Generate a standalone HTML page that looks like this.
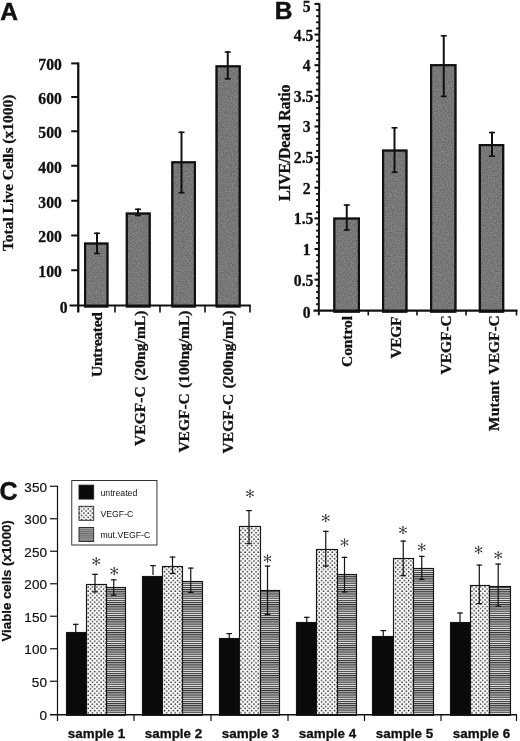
<!DOCTYPE html>
<html><head><meta charset="utf-8"><title>Figure</title>
<style>html,body{margin:0;padding:0;background:#fff}svg{display:block;opacity:0.999;will-change:transform}text{font-kerning:normal}</style>
</head><body>
<svg width="520" height="741" viewBox="0 0 520 741">
<defs>
<filter id="noise" x="0" y="0" width="100%" height="100%" color-interpolation-filters="sRGB">
<feTurbulence type="fractalNoise" baseFrequency="0.8" numOctaves="2" seed="7" result="n"/>
<feColorMatrix in="n" type="matrix" values="0.9 0 0 0 0.02  0.9 0 0 0 0.02  0.9 0 0 0 0.02  0 0 0 0 1" result="m"/>
<feComposite in="m" in2="SourceGraphic" operator="in"/>
</filter>
<pattern id="dots" width="4.36" height="4.34" patternUnits="userSpaceOnUse">
<rect width="4.4" height="4.4" fill="#fbfbfb"/>
<circle cx="1" cy="1" r="0.74" fill="#111"/>
<circle cx="3.18" cy="3.17" r="0.74" fill="#111"/>
</pattern>
<pattern id="stripes" width="4" height="2.15" patternUnits="userSpaceOnUse">
<rect width="4" height="2.2" fill="#e2e2e2"/>
<rect y="0" width="4" height="1.15" fill="#343434"/>
</pattern>
<pattern id="stripes2" width="4" height="2.15" patternUnits="userSpaceOnUse">
<rect width="4" height="2.2" fill="#a2a2a2"/>
<rect y="0" width="4" height="1.15" fill="#6c6c6c"/>
</pattern>
<g id="ast">
<line x1="0" y1="-4.2" x2="0" y2="4.2" stroke="#222" stroke-width="0.9" stroke-linecap="round"/>
<line x1="-3.9" y1="-2.3" x2="3.9" y2="2.3" stroke="#222" stroke-width="0.9" stroke-linecap="round"/>
<line x1="-3.9" y1="2.3" x2="3.9" y2="-2.3" stroke="#222" stroke-width="0.9" stroke-linecap="round"/>
<circle cx="0" cy="-3.5" r="0.8" fill="#222"/><circle cx="0" cy="3.5" r="0.8" fill="#222"/>
<circle cx="-3.2" cy="-1.9" r="0.8" fill="#222"/><circle cx="3.2" cy="1.9" r="0.8" fill="#222"/>
<circle cx="-3.2" cy="1.9" r="0.8" fill="#222"/><circle cx="3.2" cy="-1.9" r="0.8" fill="#222"/>
</g>
</defs>
<rect width="520" height="741" fill="#fff"/>
<text transform="translate(0.30,19.60) scale(1.0000,1)" text-anchor="start" font-size="24.5" font-family="Liberation Sans" font-weight="bold" stroke="#111" stroke-width="0.5" fill="#111" >A</text>
<rect x="84.00" y="242.50" width="24.50" height="63.00" fill="#787878"/>
<rect x="84.00" y="242.50" width="24.50" height="63.00" fill="#000" filter="url(#noise)" opacity="0.28"/>
<rect x="85.10" y="243.60" width="22.30" height="63.00" fill="none" stroke="#111" stroke-width="2.2"/>
<rect x="125.75" y="212.50" width="25.00" height="93.00" fill="#787878"/>
<rect x="125.75" y="212.50" width="25.00" height="93.00" fill="#000" filter="url(#noise)" opacity="0.28"/>
<rect x="126.85" y="213.60" width="22.80" height="93.00" fill="none" stroke="#111" stroke-width="2.2"/>
<rect x="171.25" y="161.25" width="24.75" height="144.25" fill="#787878"/>
<rect x="171.25" y="161.25" width="24.75" height="144.25" fill="#000" filter="url(#noise)" opacity="0.28"/>
<rect x="172.35" y="162.35" width="22.55" height="144.25" fill="none" stroke="#111" stroke-width="2.2"/>
<rect x="215.50" y="65.25" width="25.25" height="240.25" fill="#787878"/>
<rect x="215.50" y="65.25" width="25.25" height="240.25" fill="#000" filter="url(#noise)" opacity="0.28"/>
<rect x="216.60" y="66.35" width="23.05" height="240.25" fill="none" stroke="#111" stroke-width="2.2"/>
<line x1="78.25" y1="62.40" x2="78.25" y2="312.50" stroke="#111" stroke-width="2.3" />
<line x1="71.20" y1="270.25" x2="78.25" y2="270.25" stroke="#111" stroke-width="2.0" />
<text transform="translate(61.80,277.15) scale(0.9781,1)" text-anchor="end" font-size="16.0" font-family="Liberation Serif" font-weight="bold" stroke="#111" stroke-width="0.3" fill="#111" >100</text>
<line x1="71.20" y1="235.50" x2="78.25" y2="235.50" stroke="#111" stroke-width="2.0" />
<text transform="translate(61.80,242.40) scale(0.9781,1)" text-anchor="end" font-size="16.0" font-family="Liberation Serif" font-weight="bold" stroke="#111" stroke-width="0.3" fill="#111" >200</text>
<line x1="71.20" y1="200.75" x2="78.25" y2="200.75" stroke="#111" stroke-width="2.0" />
<text transform="translate(61.80,207.65) scale(0.9781,1)" text-anchor="end" font-size="16.0" font-family="Liberation Serif" font-weight="bold" stroke="#111" stroke-width="0.3" fill="#111" >300</text>
<line x1="71.20" y1="165.75" x2="78.25" y2="165.75" stroke="#111" stroke-width="2.0" />
<text transform="translate(61.80,172.65) scale(0.9781,1)" text-anchor="end" font-size="16.0" font-family="Liberation Serif" font-weight="bold" stroke="#111" stroke-width="0.3" fill="#111" >400</text>
<line x1="71.20" y1="131.25" x2="78.25" y2="131.25" stroke="#111" stroke-width="2.0" />
<text transform="translate(61.80,138.15) scale(0.9781,1)" text-anchor="end" font-size="16.0" font-family="Liberation Serif" font-weight="bold" stroke="#111" stroke-width="0.3" fill="#111" >500</text>
<line x1="71.20" y1="97.00" x2="78.25" y2="97.00" stroke="#111" stroke-width="2.0" />
<text transform="translate(61.80,103.90) scale(0.9781,1)" text-anchor="end" font-size="16.0" font-family="Liberation Serif" font-weight="bold" stroke="#111" stroke-width="0.3" fill="#111" >600</text>
<line x1="71.20" y1="63.40" x2="78.25" y2="63.40" stroke="#111" stroke-width="2.0" />
<text transform="translate(61.80,70.30) scale(0.9781,1)" text-anchor="end" font-size="16.0" font-family="Liberation Serif" font-weight="bold" stroke="#111" stroke-width="0.3" fill="#111" >700</text>
<text transform="translate(67.50,312.70) scale(0.9781,1)" text-anchor="end" font-size="16.0" font-family="Liberation Serif" font-weight="bold" stroke="#111" stroke-width="0.3" fill="#111" >0</text>
<line x1="69.50" y1="305.50" x2="250.80" y2="305.50" stroke="#111" stroke-width="2.0" />
<line x1="115.00" y1="305.50" x2="115.00" y2="312.50" stroke="#111" stroke-width="1.6" />
<line x1="160.00" y1="305.50" x2="160.00" y2="312.50" stroke="#111" stroke-width="1.6" />
<line x1="205.00" y1="305.50" x2="205.00" y2="312.50" stroke="#111" stroke-width="1.6" />
<line x1="250.00" y1="305.50" x2="250.00" y2="312.50" stroke="#111" stroke-width="1.6" />
<line x1="97.00" y1="232.50" x2="97.00" y2="254.25" stroke="#111" stroke-width="2.0" />
<line x1="94.00" y1="233.30" x2="100.00" y2="233.30" stroke="#111" stroke-width="1.6" />
<line x1="94.00" y1="253.45" x2="100.00" y2="253.45" stroke="#111" stroke-width="1.6" />
<line x1="138.00" y1="208.50" x2="138.00" y2="216.20" stroke="#111" stroke-width="2.0" />
<line x1="135.00" y1="209.30" x2="141.00" y2="209.30" stroke="#111" stroke-width="1.6" />
<line x1="135.00" y1="215.40" x2="141.00" y2="215.40" stroke="#111" stroke-width="1.6" />
<line x1="181.50" y1="131.50" x2="181.50" y2="193.50" stroke="#111" stroke-width="2.0" />
<line x1="178.50" y1="132.30" x2="184.50" y2="132.30" stroke="#111" stroke-width="1.6" />
<line x1="178.50" y1="192.70" x2="184.50" y2="192.70" stroke="#111" stroke-width="1.6" />
<line x1="227.75" y1="51.20" x2="227.75" y2="79.60" stroke="#111" stroke-width="2.0" />
<line x1="224.75" y1="52.00" x2="230.75" y2="52.00" stroke="#111" stroke-width="1.6" />
<line x1="224.75" y1="78.80" x2="230.75" y2="78.80" stroke="#111" stroke-width="1.6" />
<text transform="translate(13.00,94.70) rotate(-90)" text-anchor="end" font-size="15.5" font-family="Liberation Serif" font-weight="bold" stroke="#111" stroke-width="0.3" fill="#111" textLength="156.4" lengthAdjust="spacing" >Total Live Cells (x1000)</text>
<text transform="translate(101.90,312.00) rotate(-90)" text-anchor="end" font-size="15.5" font-family="Liberation Serif" font-weight="bold" stroke="#111" stroke-width="0.3" fill="#111" textLength="65" lengthAdjust="spacing" >Untreated</text>
<text transform="translate(144.60,310.60) rotate(-90)" text-anchor="end" font-size="15.5" font-family="Liberation Serif" font-weight="bold" stroke="#111" stroke-width="0.3" fill="#111" textLength="135.3" lengthAdjust="spacing" word-spacing="1.5">VEGF-C (20ng/mL)</text>
<text transform="translate(189.40,310.60) rotate(-90)" text-anchor="end" font-size="15.5" font-family="Liberation Serif" font-weight="bold" stroke="#111" stroke-width="0.3" fill="#111" textLength="142" lengthAdjust="spacing" word-spacing="1.5">VEGF-C (100ng/mL)</text>
<text transform="translate(232.70,310.60) rotate(-90)" text-anchor="end" font-size="15.5" font-family="Liberation Serif" font-weight="bold" stroke="#111" stroke-width="0.3" fill="#111" textLength="142.8" lengthAdjust="spacing" word-spacing="1.5">VEGF-C (200ng/mL)</text>
<text transform="translate(274.80,19.20) scale(1.0000,1)" text-anchor="start" font-size="24.5" font-family="Liberation Sans" font-weight="bold" stroke="#111" stroke-width="0.5" fill="#111" >B</text>
<rect x="333.25" y="217.50" width="26.75" height="93.15" fill="#787878"/>
<rect x="333.25" y="217.50" width="26.75" height="93.15" fill="#000" filter="url(#noise)" opacity="0.28"/>
<rect x="334.35" y="218.60" width="24.55" height="93.15" fill="none" stroke="#111" stroke-width="2.2"/>
<rect x="382.00" y="149.50" width="25.50" height="161.15" fill="#787878"/>
<rect x="382.00" y="149.50" width="25.50" height="161.15" fill="#000" filter="url(#noise)" opacity="0.28"/>
<rect x="383.10" y="150.60" width="23.30" height="161.15" fill="none" stroke="#111" stroke-width="2.2"/>
<rect x="430.00" y="64.10" width="26.50" height="246.55" fill="#787878"/>
<rect x="430.00" y="64.10" width="26.50" height="246.55" fill="#000" filter="url(#noise)" opacity="0.28"/>
<rect x="431.10" y="65.20" width="24.30" height="246.55" fill="none" stroke="#111" stroke-width="2.2"/>
<rect x="478.75" y="144.00" width="25.50" height="166.65" fill="#787878"/>
<rect x="478.75" y="144.00" width="25.50" height="166.65" fill="#000" filter="url(#noise)" opacity="0.28"/>
<rect x="479.85" y="145.10" width="23.30" height="166.65" fill="none" stroke="#111" stroke-width="2.2"/>
<line x1="319.40" y1="3.30" x2="318.80" y2="315.20" stroke="#111" stroke-width="2.0" />
<text transform="translate(310.60,317.60) scale(0.9781,1)" text-anchor="end" font-size="16.0" font-family="Liberation Serif" font-weight="bold" stroke="#111" stroke-width="0.3" fill="#111" >0</text>
<line x1="316.10" y1="304.17" x2="319.10" y2="304.17" stroke="#111" stroke-width="1.9" />
<line x1="316.10" y1="298.04" x2="319.10" y2="298.04" stroke="#111" stroke-width="1.9" />
<line x1="316.10" y1="291.92" x2="319.10" y2="291.92" stroke="#111" stroke-width="1.9" />
<line x1="316.10" y1="285.79" x2="319.10" y2="285.79" stroke="#111" stroke-width="1.9" />
<line x1="314.50" y1="279.66" x2="319.10" y2="279.66" stroke="#111" stroke-width="2.1" />
<text transform="translate(313.40,285.66) scale(0.9781,1)" text-anchor="end" font-size="16.0" font-family="Liberation Serif" font-weight="bold" stroke="#111" stroke-width="0.3" fill="#111" >0.5</text>
<line x1="316.10" y1="273.53" x2="319.10" y2="273.53" stroke="#111" stroke-width="1.9" />
<line x1="316.10" y1="267.40" x2="319.10" y2="267.40" stroke="#111" stroke-width="1.9" />
<line x1="316.10" y1="261.28" x2="319.10" y2="261.28" stroke="#111" stroke-width="1.9" />
<line x1="316.10" y1="255.15" x2="319.10" y2="255.15" stroke="#111" stroke-width="1.9" />
<line x1="314.50" y1="249.02" x2="319.10" y2="249.02" stroke="#111" stroke-width="2.1" />
<text transform="translate(310.60,255.02) scale(0.9781,1)" text-anchor="end" font-size="16.0" font-family="Liberation Serif" font-weight="bold" stroke="#111" stroke-width="0.3" fill="#111" >1</text>
<line x1="316.10" y1="242.89" x2="319.10" y2="242.89" stroke="#111" stroke-width="1.9" />
<line x1="316.10" y1="236.76" x2="319.10" y2="236.76" stroke="#111" stroke-width="1.9" />
<line x1="316.10" y1="230.64" x2="319.10" y2="230.64" stroke="#111" stroke-width="1.9" />
<line x1="316.10" y1="224.51" x2="319.10" y2="224.51" stroke="#111" stroke-width="1.9" />
<line x1="314.50" y1="218.38" x2="319.10" y2="218.38" stroke="#111" stroke-width="2.1" />
<text transform="translate(313.40,224.38) scale(0.9781,1)" text-anchor="end" font-size="16.0" font-family="Liberation Serif" font-weight="bold" stroke="#111" stroke-width="0.3" fill="#111" >1.5</text>
<line x1="316.10" y1="212.25" x2="319.10" y2="212.25" stroke="#111" stroke-width="1.9" />
<line x1="316.10" y1="206.12" x2="319.10" y2="206.12" stroke="#111" stroke-width="1.9" />
<line x1="316.10" y1="200.00" x2="319.10" y2="200.00" stroke="#111" stroke-width="1.9" />
<line x1="316.10" y1="193.87" x2="319.10" y2="193.87" stroke="#111" stroke-width="1.9" />
<line x1="314.50" y1="187.74" x2="319.10" y2="187.74" stroke="#111" stroke-width="2.1" />
<text transform="translate(310.60,193.74) scale(0.9781,1)" text-anchor="end" font-size="16.0" font-family="Liberation Serif" font-weight="bold" stroke="#111" stroke-width="0.3" fill="#111" >2</text>
<line x1="316.10" y1="181.61" x2="319.10" y2="181.61" stroke="#111" stroke-width="1.9" />
<line x1="316.10" y1="175.48" x2="319.10" y2="175.48" stroke="#111" stroke-width="1.9" />
<line x1="316.10" y1="169.36" x2="319.10" y2="169.36" stroke="#111" stroke-width="1.9" />
<line x1="316.10" y1="163.23" x2="319.10" y2="163.23" stroke="#111" stroke-width="1.9" />
<line x1="314.50" y1="157.10" x2="319.10" y2="157.10" stroke="#111" stroke-width="2.1" />
<text transform="translate(313.40,163.10) scale(0.9781,1)" text-anchor="end" font-size="16.0" font-family="Liberation Serif" font-weight="bold" stroke="#111" stroke-width="0.3" fill="#111" >2.5</text>
<line x1="316.10" y1="150.97" x2="319.10" y2="150.97" stroke="#111" stroke-width="1.9" />
<line x1="316.10" y1="144.84" x2="319.10" y2="144.84" stroke="#111" stroke-width="1.9" />
<line x1="316.10" y1="138.72" x2="319.10" y2="138.72" stroke="#111" stroke-width="1.9" />
<line x1="316.10" y1="132.59" x2="319.10" y2="132.59" stroke="#111" stroke-width="1.9" />
<line x1="314.50" y1="126.46" x2="319.10" y2="126.46" stroke="#111" stroke-width="2.1" />
<text transform="translate(310.60,132.46) scale(0.9781,1)" text-anchor="end" font-size="16.0" font-family="Liberation Serif" font-weight="bold" stroke="#111" stroke-width="0.3" fill="#111" >3</text>
<line x1="316.10" y1="120.33" x2="319.10" y2="120.33" stroke="#111" stroke-width="1.9" />
<line x1="316.10" y1="114.20" x2="319.10" y2="114.20" stroke="#111" stroke-width="1.9" />
<line x1="316.10" y1="108.08" x2="319.10" y2="108.08" stroke="#111" stroke-width="1.9" />
<line x1="316.10" y1="101.95" x2="319.10" y2="101.95" stroke="#111" stroke-width="1.9" />
<line x1="314.50" y1="95.82" x2="319.10" y2="95.82" stroke="#111" stroke-width="2.1" />
<text transform="translate(313.40,101.82) scale(0.9781,1)" text-anchor="end" font-size="16.0" font-family="Liberation Serif" font-weight="bold" stroke="#111" stroke-width="0.3" fill="#111" >3.5</text>
<line x1="316.10" y1="89.69" x2="319.10" y2="89.69" stroke="#111" stroke-width="1.9" />
<line x1="316.10" y1="83.56" x2="319.10" y2="83.56" stroke="#111" stroke-width="1.9" />
<line x1="316.10" y1="77.44" x2="319.10" y2="77.44" stroke="#111" stroke-width="1.9" />
<line x1="316.10" y1="71.31" x2="319.10" y2="71.31" stroke="#111" stroke-width="1.9" />
<line x1="314.50" y1="65.18" x2="319.10" y2="65.18" stroke="#111" stroke-width="2.1" />
<text transform="translate(310.60,71.18) scale(0.9781,1)" text-anchor="end" font-size="16.0" font-family="Liberation Serif" font-weight="bold" stroke="#111" stroke-width="0.3" fill="#111" >4</text>
<line x1="316.10" y1="59.05" x2="319.10" y2="59.05" stroke="#111" stroke-width="1.9" />
<line x1="316.10" y1="52.92" x2="319.10" y2="52.92" stroke="#111" stroke-width="1.9" />
<line x1="316.10" y1="46.80" x2="319.10" y2="46.80" stroke="#111" stroke-width="1.9" />
<line x1="316.10" y1="40.67" x2="319.10" y2="40.67" stroke="#111" stroke-width="1.9" />
<line x1="314.50" y1="34.54" x2="319.10" y2="34.54" stroke="#111" stroke-width="2.1" />
<text transform="translate(313.40,40.54) scale(0.9781,1)" text-anchor="end" font-size="16.0" font-family="Liberation Serif" font-weight="bold" stroke="#111" stroke-width="0.3" fill="#111" >4.5</text>
<line x1="316.10" y1="28.41" x2="319.10" y2="28.41" stroke="#111" stroke-width="1.9" />
<line x1="316.10" y1="22.28" x2="319.10" y2="22.28" stroke="#111" stroke-width="1.9" />
<line x1="316.10" y1="16.16" x2="319.10" y2="16.16" stroke="#111" stroke-width="1.9" />
<line x1="316.10" y1="10.03" x2="319.10" y2="10.03" stroke="#111" stroke-width="1.9" />
<line x1="314.50" y1="3.90" x2="319.10" y2="3.90" stroke="#111" stroke-width="2.1" />
<text transform="translate(310.60,11.90) scale(0.9781,1)" text-anchor="end" font-size="16.0" font-family="Liberation Serif" font-weight="bold" stroke="#111" stroke-width="0.3" fill="#111" >5</text>
<line x1="313.50" y1="310.65" x2="517.50" y2="310.65" stroke="#111" stroke-width="2.3" />
<line x1="368.25" y1="310.65" x2="368.25" y2="315.50" stroke="#111" stroke-width="1.6" />
<line x1="417.00" y1="310.65" x2="417.00" y2="315.50" stroke="#111" stroke-width="1.6" />
<line x1="466.00" y1="310.65" x2="466.00" y2="315.50" stroke="#111" stroke-width="1.6" />
<line x1="516.50" y1="310.65" x2="516.50" y2="315.50" stroke="#111" stroke-width="1.6" />
<line x1="346.75" y1="204.25" x2="346.75" y2="230.75" stroke="#111" stroke-width="2.0" />
<line x1="343.75" y1="205.05" x2="349.75" y2="205.05" stroke="#111" stroke-width="1.6" />
<line x1="343.75" y1="229.95" x2="349.75" y2="229.95" stroke="#111" stroke-width="1.6" />
<line x1="394.50" y1="127.00" x2="394.50" y2="173.00" stroke="#111" stroke-width="2.0" />
<line x1="391.50" y1="127.80" x2="397.50" y2="127.80" stroke="#111" stroke-width="1.6" />
<line x1="391.50" y1="172.20" x2="397.50" y2="172.20" stroke="#111" stroke-width="1.6" />
<line x1="443.75" y1="35.00" x2="443.75" y2="97.20" stroke="#111" stroke-width="2.0" />
<line x1="440.75" y1="35.80" x2="446.75" y2="35.80" stroke="#111" stroke-width="1.6" />
<line x1="440.75" y1="96.40" x2="446.75" y2="96.40" stroke="#111" stroke-width="1.6" />
<line x1="492.00" y1="131.75" x2="492.00" y2="157.00" stroke="#111" stroke-width="2.0" />
<line x1="489.00" y1="132.55" x2="495.00" y2="132.55" stroke="#111" stroke-width="1.6" />
<line x1="489.00" y1="156.20" x2="495.00" y2="156.20" stroke="#111" stroke-width="1.6" />
<text transform="translate(289.90,84.60) rotate(-90)" text-anchor="end" font-size="16" font-family="Liberation Serif" font-weight="bold" stroke="#111" stroke-width="0.3" fill="#111" textLength="116.5" lengthAdjust="spacing" >LIVE/Dead Ratio</text>
<text transform="translate(351.70,316.00) rotate(-90)" text-anchor="end" font-size="15.5" font-family="Liberation Serif" font-weight="bold" stroke="#111" stroke-width="0.3" fill="#111" textLength="51" lengthAdjust="spacing" >Control</text>
<text transform="translate(400.70,316.50) rotate(-90)" text-anchor="end" font-size="15.5" font-family="Liberation Serif" font-weight="bold" stroke="#111" stroke-width="0.3" fill="#111" textLength="42" lengthAdjust="spacing" >VEGF</text>
<text transform="translate(451.40,315.20) rotate(-90)" text-anchor="end" font-size="15.5" font-family="Liberation Serif" font-weight="bold" stroke="#111" stroke-width="0.3" fill="#111" textLength="59.3" lengthAdjust="spacing" >VEGF-C</text>
<text transform="translate(499.30,315.20) rotate(-90)" text-anchor="end" font-size="15.5" font-family="Liberation Serif" font-weight="bold" stroke="#111" stroke-width="0.3" fill="#111" textLength="59.3" lengthAdjust="spacing" >VEGF-C</text>
<text transform="translate(499.30,431.00) rotate(-90)" text-anchor="start" font-size="15.5" font-family="Liberation Serif" font-weight="bold" stroke="#111" stroke-width="0.3" fill="#111" textLength="50.5" lengthAdjust="spacing" >Mutant</text>
<text transform="translate(-0.60,499.60) scale(1.0000,1)" text-anchor="start" font-size="25" font-family="Liberation Sans" font-weight="bold" stroke="#111" stroke-width="0.4" fill="#111" >C</text>
<rect x="66.50" y="632.50" width="20.00" height="82.80" fill="#0a0a0a" stroke="#151515" stroke-width="1.15"/>
<rect x="86.50" y="584.50" width="20.00" height="130.80" fill="url(#dots)" stroke="#151515" stroke-width="1.15"/>
<rect x="106.50" y="587.50" width="19.00" height="127.80" fill="url(#stripes)" stroke="#151515" stroke-width="1.15"/>
<rect x="142.50" y="576.50" width="20.00" height="138.80" fill="#0a0a0a" stroke="#151515" stroke-width="1.15"/>
<rect x="162.50" y="566.50" width="20.00" height="148.80" fill="url(#dots)" stroke="#151515" stroke-width="1.15"/>
<rect x="182.50" y="581.50" width="20.00" height="133.80" fill="url(#stripes)" stroke="#151515" stroke-width="1.15"/>
<rect x="219.50" y="638.50" width="20.00" height="76.80" fill="#0a0a0a" stroke="#151515" stroke-width="1.15"/>
<rect x="239.50" y="526.50" width="21.00" height="188.80" fill="url(#dots)" stroke="#151515" stroke-width="1.15"/>
<rect x="260.50" y="590.50" width="19.00" height="124.80" fill="url(#stripes)" stroke="#151515" stroke-width="1.15"/>
<rect x="296.50" y="622.50" width="20.00" height="92.80" fill="#0a0a0a" stroke="#151515" stroke-width="1.15"/>
<rect x="316.50" y="549.50" width="21.00" height="165.80" fill="url(#dots)" stroke="#151515" stroke-width="1.15"/>
<rect x="337.50" y="574.50" width="19.00" height="140.80" fill="url(#stripes)" stroke="#151515" stroke-width="1.15"/>
<rect x="372.50" y="636.50" width="21.00" height="78.80" fill="#0a0a0a" stroke="#151515" stroke-width="1.15"/>
<rect x="393.50" y="558.50" width="20.00" height="156.80" fill="url(#dots)" stroke="#151515" stroke-width="1.15"/>
<rect x="413.50" y="568.50" width="20.00" height="146.80" fill="url(#stripes)" stroke="#151515" stroke-width="1.15"/>
<rect x="450.50" y="622.50" width="20.00" height="92.80" fill="#0a0a0a" stroke="#151515" stroke-width="1.15"/>
<rect x="470.50" y="585.50" width="19.00" height="129.80" fill="url(#dots)" stroke="#151515" stroke-width="1.15"/>
<rect x="489.50" y="586.50" width="21.00" height="128.80" fill="url(#stripes)" stroke="#151515" stroke-width="1.15"/>
<line x1="57.50" y1="485.70" x2="57.50" y2="721.00" stroke="#111" stroke-width="1.2" />
<line x1="50.00" y1="486.25" x2="57.50" y2="486.25" stroke="#111" stroke-width="1.2" />
<text transform="translate(46.90,491.95) scale(1.0000,1)" text-anchor="end" font-size="13.5" font-family="Liberation Sans" stroke="#111" stroke-width="0.2" fill="#111" >350</text>
<line x1="50.00" y1="518.75" x2="57.50" y2="518.75" stroke="#111" stroke-width="1.2" />
<text transform="translate(46.90,524.45) scale(1.0000,1)" text-anchor="end" font-size="13.5" font-family="Liberation Sans" stroke="#111" stroke-width="0.2" fill="#111" >300</text>
<line x1="50.00" y1="551.25" x2="57.50" y2="551.25" stroke="#111" stroke-width="1.2" />
<text transform="translate(46.90,556.95) scale(1.0000,1)" text-anchor="end" font-size="13.5" font-family="Liberation Sans" stroke="#111" stroke-width="0.2" fill="#111" >250</text>
<line x1="50.00" y1="583.75" x2="57.50" y2="583.75" stroke="#111" stroke-width="1.2" />
<text transform="translate(46.90,589.45) scale(1.0000,1)" text-anchor="end" font-size="13.5" font-family="Liberation Sans" stroke="#111" stroke-width="0.2" fill="#111" >200</text>
<line x1="50.00" y1="616.25" x2="57.50" y2="616.25" stroke="#111" stroke-width="1.2" />
<text transform="translate(46.90,621.95) scale(1.0000,1)" text-anchor="end" font-size="13.5" font-family="Liberation Sans" stroke="#111" stroke-width="0.2" fill="#111" >150</text>
<line x1="50.00" y1="648.75" x2="57.50" y2="648.75" stroke="#111" stroke-width="1.2" />
<text transform="translate(46.90,654.45) scale(1.0000,1)" text-anchor="end" font-size="13.5" font-family="Liberation Sans" stroke="#111" stroke-width="0.2" fill="#111" >100</text>
<line x1="50.00" y1="681.25" x2="57.50" y2="681.25" stroke="#111" stroke-width="1.2" />
<text transform="translate(46.90,686.95) scale(1.0000,1)" text-anchor="end" font-size="13.5" font-family="Liberation Sans" stroke="#111" stroke-width="0.2" fill="#111" >50</text>
<text transform="translate(46.90,720.20) scale(1.0000,1)" text-anchor="end" font-size="13.5" font-family="Liberation Sans" stroke="#111" stroke-width="0.2" fill="#111" >0</text>
<line x1="50.00" y1="714.70" x2="517.00" y2="714.70" stroke="#111" stroke-width="1.4" />
<line x1="134.00" y1="714.70" x2="134.00" y2="721.00" stroke="#111" stroke-width="1.2" />
<line x1="211.00" y1="714.70" x2="211.00" y2="721.00" stroke="#111" stroke-width="1.2" />
<line x1="288.00" y1="714.70" x2="288.00" y2="721.00" stroke="#111" stroke-width="1.2" />
<line x1="364.50" y1="714.70" x2="364.50" y2="721.00" stroke="#111" stroke-width="1.2" />
<line x1="441.00" y1="714.70" x2="441.00" y2="721.00" stroke="#111" stroke-width="1.2" />
<line x1="516.50" y1="714.70" x2="516.50" y2="721.00" stroke="#111" stroke-width="1.2" />
<line x1="75.75" y1="623.75" x2="75.75" y2="633.75" stroke="#111" stroke-width="1.2" />
<line x1="72.95" y1="624.35" x2="78.55" y2="624.35" stroke="#111" stroke-width="1.2" />
<line x1="95.00" y1="573.75" x2="95.00" y2="592.50" stroke="#111" stroke-width="1.2" />
<line x1="92.20" y1="574.35" x2="97.80" y2="574.35" stroke="#111" stroke-width="1.2" />
<line x1="92.20" y1="591.90" x2="97.80" y2="591.90" stroke="#111" stroke-width="1.2" />
<line x1="113.75" y1="579.25" x2="113.75" y2="595.75" stroke="#111" stroke-width="1.2" />
<line x1="110.95" y1="579.85" x2="116.55" y2="579.85" stroke="#111" stroke-width="1.2" />
<line x1="110.95" y1="595.15" x2="116.55" y2="595.15" stroke="#111" stroke-width="1.2" />
<line x1="153.00" y1="565.00" x2="153.00" y2="575.00" stroke="#111" stroke-width="1.2" />
<line x1="150.20" y1="565.60" x2="155.80" y2="565.60" stroke="#111" stroke-width="1.2" />
<line x1="172.50" y1="556.50" x2="172.50" y2="574.00" stroke="#111" stroke-width="1.2" />
<line x1="169.70" y1="557.10" x2="175.30" y2="557.10" stroke="#111" stroke-width="1.2" />
<line x1="169.70" y1="573.40" x2="175.30" y2="573.40" stroke="#111" stroke-width="1.2" />
<line x1="190.75" y1="567.50" x2="190.75" y2="593.00" stroke="#111" stroke-width="1.2" />
<line x1="187.95" y1="568.10" x2="193.55" y2="568.10" stroke="#111" stroke-width="1.2" />
<line x1="187.95" y1="592.40" x2="193.55" y2="592.40" stroke="#111" stroke-width="1.2" />
<line x1="229.25" y1="633.00" x2="229.25" y2="643.00" stroke="#111" stroke-width="1.2" />
<line x1="226.45" y1="633.60" x2="232.05" y2="633.60" stroke="#111" stroke-width="1.2" />
<line x1="249.00" y1="510.00" x2="249.00" y2="544.25" stroke="#111" stroke-width="1.2" />
<line x1="246.20" y1="510.60" x2="251.80" y2="510.60" stroke="#111" stroke-width="1.2" />
<line x1="246.20" y1="543.65" x2="251.80" y2="543.65" stroke="#111" stroke-width="1.2" />
<line x1="267.50" y1="565.50" x2="267.50" y2="615.00" stroke="#111" stroke-width="1.2" />
<line x1="264.70" y1="566.10" x2="270.30" y2="566.10" stroke="#111" stroke-width="1.2" />
<line x1="264.70" y1="614.40" x2="270.30" y2="614.40" stroke="#111" stroke-width="1.2" />
<line x1="306.75" y1="616.75" x2="306.75" y2="626.75" stroke="#111" stroke-width="1.2" />
<line x1="303.95" y1="617.35" x2="309.55" y2="617.35" stroke="#111" stroke-width="1.2" />
<line x1="325.75" y1="530.75" x2="325.75" y2="566.75" stroke="#111" stroke-width="1.2" />
<line x1="322.95" y1="531.35" x2="328.55" y2="531.35" stroke="#111" stroke-width="1.2" />
<line x1="322.95" y1="566.15" x2="328.55" y2="566.15" stroke="#111" stroke-width="1.2" />
<line x1="344.50" y1="556.75" x2="344.50" y2="592.50" stroke="#111" stroke-width="1.2" />
<line x1="341.70" y1="557.35" x2="347.30" y2="557.35" stroke="#111" stroke-width="1.2" />
<line x1="341.70" y1="591.90" x2="347.30" y2="591.90" stroke="#111" stroke-width="1.2" />
<line x1="383.25" y1="630.00" x2="383.25" y2="640.00" stroke="#111" stroke-width="1.2" />
<line x1="380.45" y1="630.60" x2="386.05" y2="630.60" stroke="#111" stroke-width="1.2" />
<line x1="403.25" y1="540.50" x2="403.25" y2="576.25" stroke="#111" stroke-width="1.2" />
<line x1="400.45" y1="541.10" x2="406.05" y2="541.10" stroke="#111" stroke-width="1.2" />
<line x1="400.45" y1="575.65" x2="406.05" y2="575.65" stroke="#111" stroke-width="1.2" />
<line x1="421.75" y1="555.75" x2="421.75" y2="580.00" stroke="#111" stroke-width="1.2" />
<line x1="418.95" y1="556.35" x2="424.55" y2="556.35" stroke="#111" stroke-width="1.2" />
<line x1="418.95" y1="579.40" x2="424.55" y2="579.40" stroke="#111" stroke-width="1.2" />
<line x1="460.00" y1="612.40" x2="460.00" y2="622.40" stroke="#111" stroke-width="1.2" />
<line x1="457.20" y1="613.00" x2="462.80" y2="613.00" stroke="#111" stroke-width="1.2" />
<line x1="479.30" y1="564.50" x2="479.30" y2="604.20" stroke="#111" stroke-width="1.2" />
<line x1="476.50" y1="565.10" x2="482.10" y2="565.10" stroke="#111" stroke-width="1.2" />
<line x1="476.50" y1="603.60" x2="482.10" y2="603.60" stroke="#111" stroke-width="1.2" />
<line x1="498.20" y1="563.50" x2="498.20" y2="606.80" stroke="#111" stroke-width="1.2" />
<line x1="495.40" y1="564.10" x2="501.00" y2="564.10" stroke="#111" stroke-width="1.2" />
<line x1="495.40" y1="606.20" x2="501.00" y2="606.20" stroke="#111" stroke-width="1.2" />
<use href="#ast" transform="translate(96.25,561.3) scale(0.88)"/>
<use href="#ast" transform="translate(114.25,571.05) scale(0.88)"/>
<use href="#ast" transform="translate(250,493.55) scale(0.88)"/>
<use href="#ast" transform="translate(267.5,558.55) scale(0.88)"/>
<use href="#ast" transform="translate(325.75,518.05) scale(0.88)"/>
<use href="#ast" transform="translate(344.5,542.55) scale(0.88)"/>
<use href="#ast" transform="translate(403,530.05) scale(0.88)"/>
<use href="#ast" transform="translate(421.75,547.3) scale(0.88)"/>
<use href="#ast" transform="translate(478.6,549.8) scale(0.88)"/>
<use href="#ast" transform="translate(498.2,555.3) scale(0.88)"/>
<rect x="71.75" y="480.5" width="85.2" height="64.5" fill="#fff" stroke="#333" stroke-width="1"/>
<rect x="79.0" y="485.1" width="14.7" height="14.0" fill="#0a0a0a" stroke="#222" stroke-width="0.9"/>
<rect x="79.0" y="506.3" width="14.7" height="13.999999999999943" fill="url(#dots)" stroke="#222" stroke-width="0.9"/>
<rect x="79.0" y="527.5" width="14.7" height="14" fill="url(#stripes2)" stroke="#222" stroke-width="0.9"/>
<text transform="translate(100.50,496.40) scale(1.0000,1)" text-anchor="start" font-size="8.7" font-family="Liberation Sans" fill="#111" >untreated</text>
<text transform="translate(100.50,517.20) scale(1.0000,1)" text-anchor="start" font-size="8.7" font-family="Liberation Sans" fill="#111" >VEGF-C</text>
<text transform="translate(100.50,538.20) scale(1.0000,1)" text-anchor="start" font-size="8.7" font-family="Liberation Sans" fill="#111" >mut.VEGF-C</text>
<text transform="translate(11.20,520.20) rotate(-90)" text-anchor="end" font-size="13.3" font-family="Liberation Sans" font-weight="bold" stroke="#111" stroke-width="0.25" fill="#111" textLength="121.3" lengthAdjust="spacing" >Viable cells (x1000)</text>
<text transform="translate(96.50,738.00) scale(1.0000,1)" text-anchor="middle" font-size="13.4" font-family="Liberation Sans" font-weight="bold" stroke="#111" stroke-width="0.3" fill="#111" >sample 1</text>
<text transform="translate(173.50,738.00) scale(1.0000,1)" text-anchor="middle" font-size="13.4" font-family="Liberation Sans" font-weight="bold" stroke="#111" stroke-width="0.3" fill="#111" >sample 2</text>
<text transform="translate(250.50,738.00) scale(1.0000,1)" text-anchor="middle" font-size="13.4" font-family="Liberation Sans" font-weight="bold" stroke="#111" stroke-width="0.3" fill="#111" >sample 3</text>
<text transform="translate(327.50,738.00) scale(1.0000,1)" text-anchor="middle" font-size="13.4" font-family="Liberation Sans" font-weight="bold" stroke="#111" stroke-width="0.3" fill="#111" >sample 4</text>
<text transform="translate(404.50,738.00) scale(1.0000,1)" text-anchor="middle" font-size="13.4" font-family="Liberation Sans" font-weight="bold" stroke="#111" stroke-width="0.3" fill="#111" >sample 5</text>
<text transform="translate(481.50,738.00) scale(1.0000,1)" text-anchor="middle" font-size="13.4" font-family="Liberation Sans" font-weight="bold" stroke="#111" stroke-width="0.3" fill="#111" >sample 6</text>
</svg>
</body></html>
